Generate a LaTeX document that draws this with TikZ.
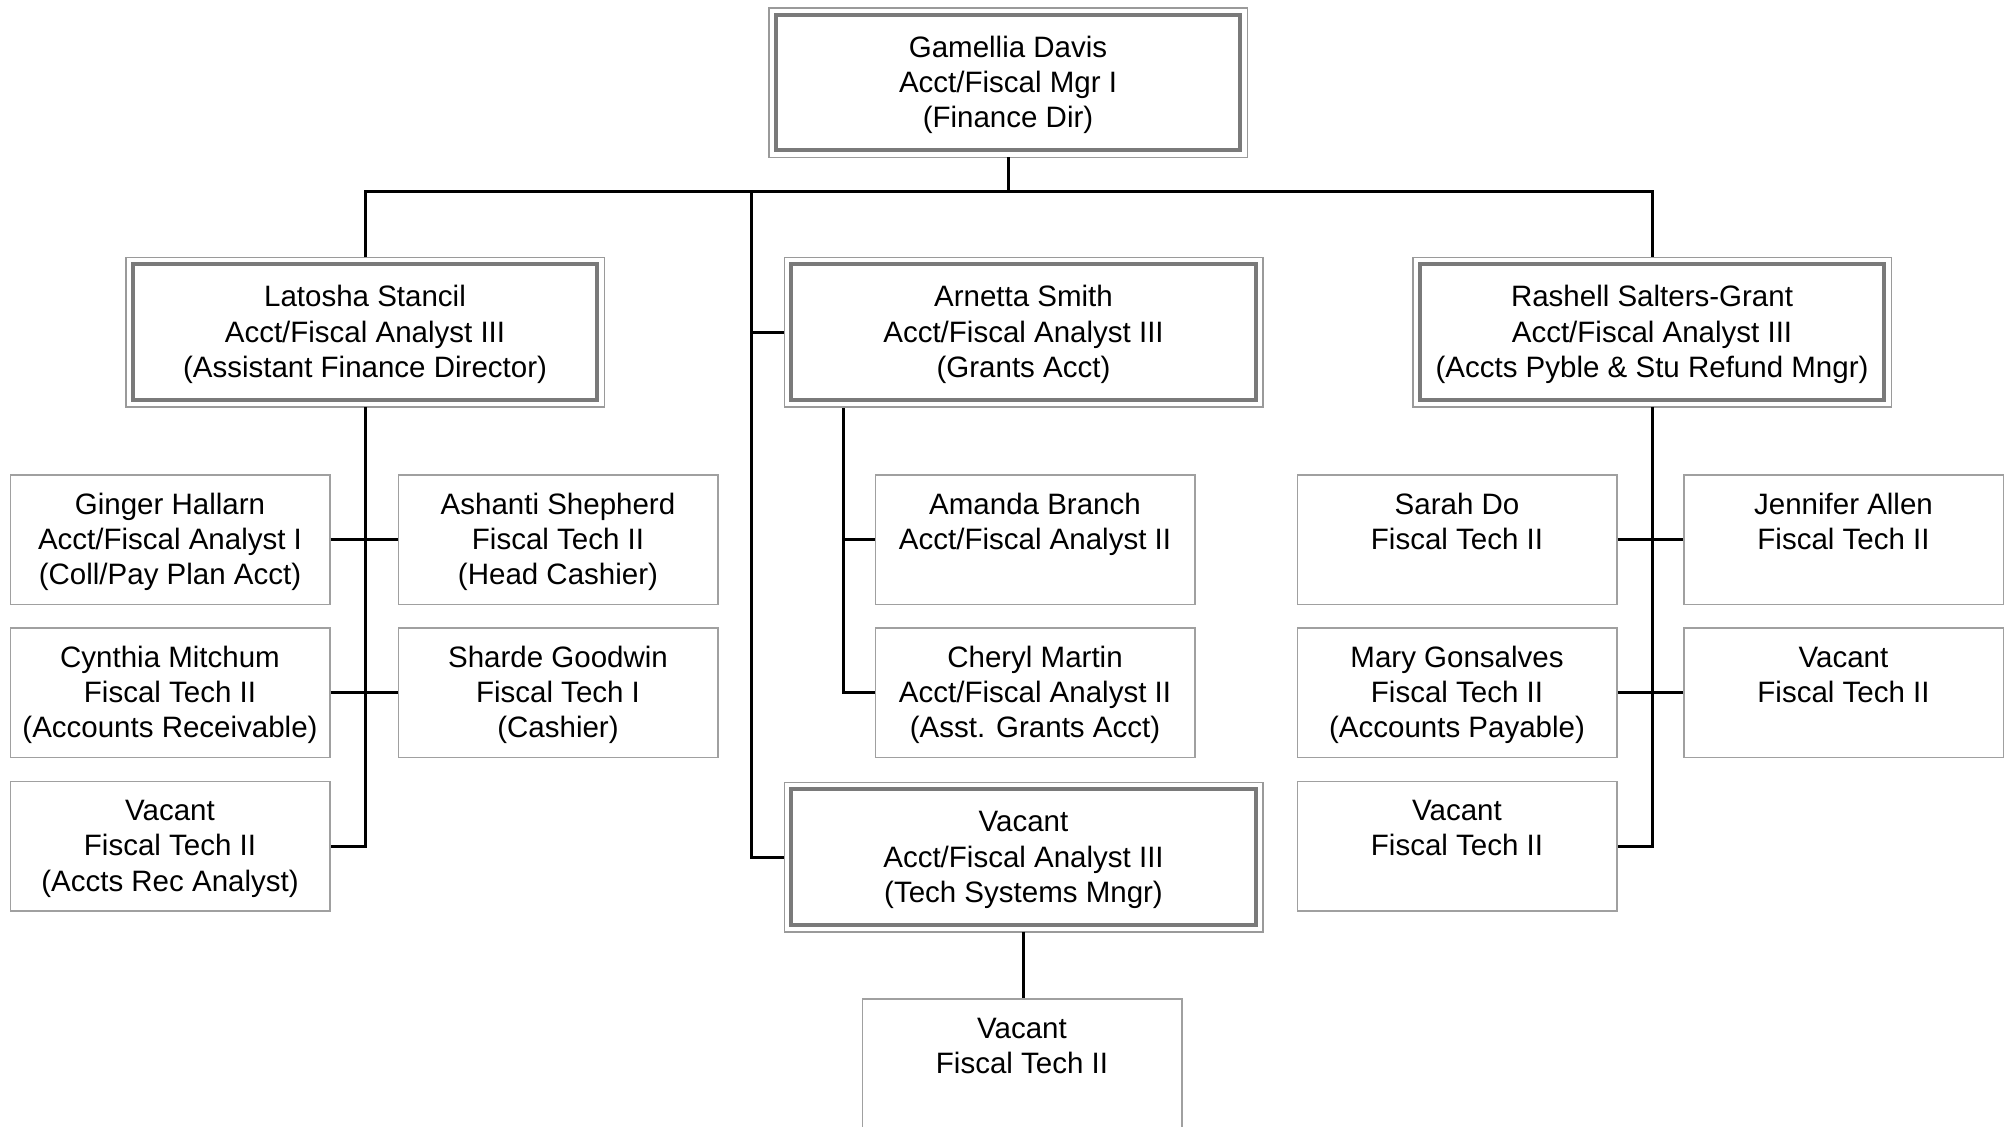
\documentclass[tikz,border=0pt]{standalone}
\usepackage{fontspec}
\setmainfont{Liberation Sans}
\definecolor{framegray}{HTML}{9A9A9A}
\definecolor{thickgray}{HTML}{7A7A7A}
\definecolor{boxgray}{HTML}{A0A0A0}
\newcommand{\sbx}[1]{\begin{minipage}[c][64.75pt][t]{159.75pt}\centering\rule{0pt}{19.7pt}#1\end{minipage}}
\newcommand{\bbx}[1]{\begin{minipage}[c][67.75pt][t]{232.25pt}\centering\rule{0pt}{21.3pt}#1\end{minipage}}
\tikzset{
  every node/.style={font=\fontsize{14.75pt}{17.6pt}\selectfont},
  smallbox/.style={draw=boxgray, line width=0.75pt, minimum width=159.75pt,
    minimum height=64.75pt, inner sep=0pt},
  bigbox/.style={draw=thickgray, line width=2.2pt, minimum width=232.25pt,
    minimum height=67.75pt, inner sep=0pt, outer sep=3.5pt},
  outerframe/.style={draw=framegray, line width=0.75pt},
  conn/.style={line width=1.5pt, draw=black},
}
\begin{document}
\begin{tikzpicture}[x=0.5pt, y=-0.5pt]
\fill[white] (0,0) rectangle (2011,1126);
\useasboundingbox (0,0) rectangle (2011,1126);

% managers
\node[bigbox] (top)  at (1008,82.5) {\bbx{Gamellia Davis\\Acct/Fiscal Mgr I\\(Finance Dir)}};
\node[bigbox] (lat)  at (365,332)   {\bbx{Latosha Stancil\\Acct/Fiscal Analyst III\\(Assistant Finance Director)}};
\node[bigbox] (arn)  at (1023.5,332) {\bbx{Arnetta Smith\\Acct/Fiscal Analyst III\\(Grants Acct)}};
\node[bigbox] (ras)  at (1652,332)  {\bbx{Rashell Salters-Grant\\Acct/Fiscal Analyst III\\(Accts Pyble \& Stu Refund Mngr)}};
\node[bigbox] (vac3) at (1023.5,857) {\bbx{Vacant\\Acct/Fiscal Analyst III\\(Tech Systems Mngr)}};
\foreach \n in {top,lat,arn,ras,vac3}
  \draw[outerframe] (\n.south west) rectangle (\n.north east);

% left group
\node[smallbox] (l1) at (170,539.5) {\sbx{Ginger Hallarn\\Acct/Fiscal Analyst I\\(Coll/Pay Plan Acct)}};
\node[smallbox] (l2) at (170,692.5) {\sbx{Cynthia Mitchum\\Fiscal Tech II\\(Accounts Receivable)}};
\node[smallbox] (l3) at (170,846)   {\sbx{Vacant\\Fiscal Tech II\\(Accts Rec Analyst)}};
\node[smallbox] (r1) at (558,539.5) {\sbx{Ashanti Shepherd\\Fiscal Tech II\\(Head Cashier)}};
\node[smallbox] (r2) at (558,692.5) {\sbx{Sharde Goodwin\\Fiscal Tech I\\(Cashier)}};

% middle group
\node[smallbox] (m1) at (1035,539.5) {\sbx{Amanda Branch\\Acct/Fiscal Analyst II}};
\node[smallbox] (m2) at (1035,692.5) {\sbx{Cheryl Martin\\Acct/Fiscal Analyst II\\(Asst. Grants Acct)}};
\node[smallbox] (bot) at (1022,1063.5) {\sbx{Vacant\\Fiscal Tech II}};

% right group
\node[smallbox] (s1) at (1457,539.5) {\sbx{Sarah Do\\Fiscal Tech II}};
\node[smallbox] (s2) at (1457,692.5) {\sbx{Mary Gonsalves\\Fiscal Tech II\\(Accounts Payable)}};
\node[smallbox] (s3) at (1457,846)   {\sbx{Vacant\\Fiscal Tech II}};
\node[smallbox] (t1) at (1843.5,539.5) {\sbx{Jennifer Allen\\Fiscal Tech II}};
\node[smallbox] (t2) at (1843.5,692.5) {\sbx{Vacant\\Fiscal Tech II}};

% connectors
\coordinate (hub) at (1008,191);
\coordinate (trunk) at (751.6,191);
\coordinate (arnbr) at (843,408);
\draw[conn] (top.south) -- (hub);
\draw[conn] (lat.north) |- (hub) -| (ras.north);
\draw[conn] (trunk) |- (vac3.west);
\draw[conn] (trunk |- arn.west) -- (arn.west);
\draw[conn] (lat.south) |- (l3.east);
\draw[conn] (l1.east) -- (r1.west);
\draw[conn] (l2.east) -- (r2.west);
\draw[conn] (arnbr) |- (m2.west);
\draw[conn] (arnbr |- m1.west) -- (m1.west);
\draw[conn] (ras.south) |- (s3.east);
\draw[conn] (s1.east) -- (t1.west);
\draw[conn] (s2.east) -- (t2.west);
\draw[conn] (vac3.south) -- (vac3.south |- bot.north);
\end{tikzpicture}
\end{document}
